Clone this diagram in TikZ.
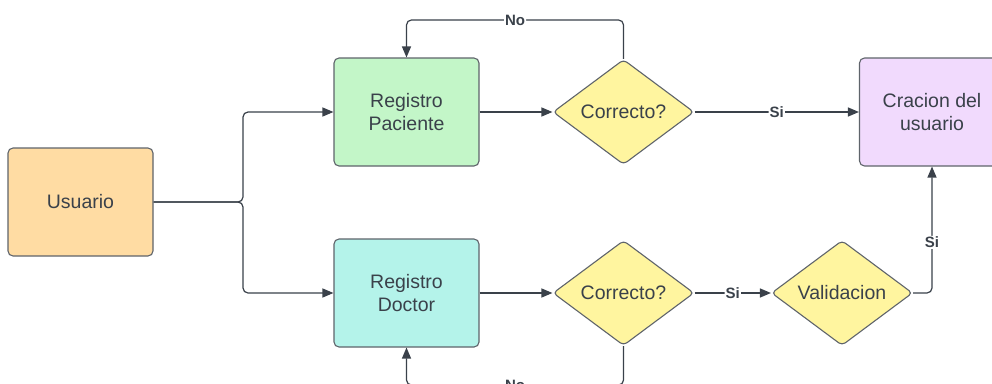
\documentclass[tikz,border=0pt]{standalone}
\usepackage{fontspec}
\setmainfont{Liberation Sans}
\usetikzlibrary{shapes.geometric,arrows.meta}
\definecolor{ink}{HTML}{3A414A}
\definecolor{edge}{HTML}{5F646B}
\definecolor{cOrange}{HTML}{FFDCA3}
\definecolor{cGreen}{HTML}{C3F6C8}
\definecolor{cTeal}{HTML}{B4F3EA}
\definecolor{cYellow}{HTML}{FFF59F}
\definecolor{cPurple}{HTML}{F1DAFD}
\tikzset{
  box/.style={draw=edge, line width=1.1pt, rounded corners=5pt, minimum width=145pt,
    minimum height=108pt, inner sep=0pt, align=center, text=ink, font=\fontsize{19.5}{23.5}\selectfont},
  decision/.style={diamond, draw=edge, line width=1.1pt, rounded corners=4pt, fill=cYellow,
    minimum width=141pt, minimum height=105pt, inner sep=0pt, text=ink, font=\fontsize{19.5}{23}\selectfont},
  flow/.style={draw=ink, line width=1.2pt, rounded corners=5pt, -{Triangle[length=11pt,width=9pt]}},
  tag/.style={fill=white, inner sep=1pt, text=ink, font=\bfseries\fontsize{15}{17}\selectfont}
}
\begin{document}
\begin{tikzpicture}[x=1pt,y=-1pt]
\useasboundingbox (0,0) rectangle (992,383);
\fill[white] (0,0) rectangle (992,383);

% process boxes
\node[box, fill=cOrange] (user) at (80.5,202) {Usuario};
\node[box, fill=cGreen] (regP) at (406.5,112) {Registro\\Paciente};
\node[box, fill=cTeal] (regD) at (406.5,293) {Registro\\Doctor};
\node[box, fill=cPurple] (done) at (932,112) {Cracion del\\usuario};

% decisions
\node[decision] (chkP) at (623.5,112) {Correcto?};
\node[decision] (chkD) at (623.5,293) {Correcto?};
\node[decision] (valid) at (842,293) {Validacion};

% junction after Usuario
\coordinate (split) at (243,202);

% Usuario branches to both registrations
\draw[flow] (user.east) -- (split) |- (regP.west);
\draw[flow] (user.east) -- (split) |- (regD.west);

% patient path
\draw[flow] (regP.east) -- (chkP.west);
\draw[flow] (chkP.east) -- node[tag] {Si} (done.west);
\draw[flow] (chkP.north) -- ++(0,-39) -| node[tag, pos=0.25] {No} (regP.north);

% doctor path
\draw[flow] (regD.east) -- (chkD.west);
\draw[flow] (chkD.east) -- node[tag] {Si} (valid.west);
\draw[flow] (chkD.south) -- ++(0,39) -| node[tag, pos=0.25] {No} (regD.south);
\draw[flow] (valid.east) -| node[tag, pos=0.7] {Si} (done.south);
\end{tikzpicture}
\end{document}
